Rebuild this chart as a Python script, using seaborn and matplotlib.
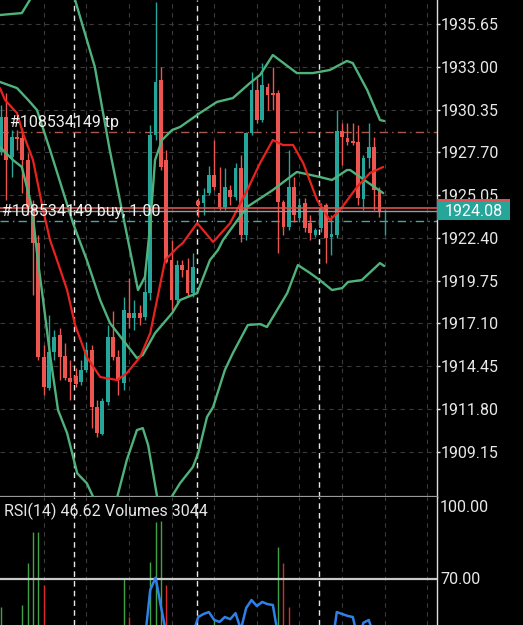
import numpy as np
import matplotlib
matplotlib.use("Agg")
import matplotlib.pyplot as plt
import seaborn as sns
from matplotlib.patches import Rectangle

# ---------------- data ----------------
opens = [1927.72, 1929.89, 1927.41, 1928.65, 1928.58, 1927.22, 1924.31, 1922.07, 1915.01, 1913.08,
         1915.32, 1916.37, 1915.07, 1913.70, 1913.83, 1913.46, 1914.20, 1915.44, 1911.91, 1910.23,
         1912.22, 1916.25, 1915.01, 1913.39, 1917.73, 1917.42, 1917.73, 1917.49, 1918.97, 1928.77,
         1932.18, 1927.22, 1921.02, 1918.54, 1920.71, 1920.40, 1918.97, 1924.68, 1924.55, 1925.17,
         1926.29, 1925.17, 1924.31, 1925.36, 1924.93, 1926.72, 1922.57, 1928.89, 1931.56, 1929.70,
         1931.75, 1931.37, 1931.37, 1924.62, 1923.07, 1925.55, 1923.62, 1924.55, 1923.31, 1922.57,
         1923.00, 1924.43, 1922.45, 1922.57, 1929.02, 1928.58, 1928.40, 1928.34, 1924.80, 1927.34,
         1928.03, 1925.36, 1924.00]
highs = [1930.63, 1931.37, 1929.08, 1929.08, 1929.20, 1927.65, 1924.74, 1922.57, 1915.75, 1917.61,
         1916.68, 1916.80, 1915.87, 1914.82, 1914.32, 1914.82, 1915.94, 1915.75, 1912.34, 1912.46,
         1916.99, 1917.86, 1915.44, 1918.73, 1919.90, 1918.54, 1918.23, 1920.52, 1929.39, 1937.02,
         1932.99, 1927.84, 1922.26, 1921.02, 1921.02, 1921.14, 1921.45, 1924.86, 1925.48, 1926.85,
         1928.46, 1926.79, 1926.72, 1925.67, 1927.03, 1927.53, 1928.96, 1932.68, 1932.30, 1933.23,
         1931.99, 1932.99, 1931.56, 1924.74, 1927.84, 1926.17, 1924.86, 1924.86, 1923.81, 1923.00,
         1924.55, 1924.55, 1923.81, 1930.32, 1929.51, 1929.51, 1929.51, 1929.39, 1927.53, 1929.51,
         1928.65, 1925.55, 1924.15]
lows = [1927.53, 1924.74, 1926.17, 1927.84, 1925.17, 1923.81, 1918.85, 1914.82, 1912.65, 1912.96,
        1914.82, 1913.58, 1913.58, 1912.34, 1913.15, 1913.27, 1914.08, 1910.60, 1910.05, 1910.17,
        1912.03, 1914.82, 1912.65, 1912.96, 1916.80, 1916.68, 1916.99, 1917.30, 1918.54, 1928.46,
        1926.60, 1920.83, 1917.92, 1918.35, 1919.97, 1918.73, 1918.73, 1923.69, 1923.81, 1925.05,
        1925.36, 1924.12, 1924.12, 1924.43, 1924.74, 1922.14, 1922.26, 1928.77, 1929.51, 1929.58,
        1930.32, 1930.32, 1921.45, 1922.57, 1922.88, 1923.38, 1923.38, 1922.76, 1922.26, 1922.45,
        1922.76, 1920.83, 1921.33, 1922.38, 1926.91, 1928.15, 1928.15, 1924.43, 1924.12, 1926.72,
        1924.12, 1923.69, 1922.57]
closes = [1929.89, 1927.22, 1928.65, 1928.52, 1927.22, 1924.31, 1922.07, 1915.01, 1913.15, 1915.32,
          1916.25, 1915.01, 1913.70, 1913.46, 1913.33, 1914.20, 1915.44, 1911.91, 1910.29, 1912.28,
          1916.25, 1915.01, 1913.58, 1917.92, 1917.42, 1917.73, 1917.42, 1919.04, 1928.77, 1932.06,
          1926.79, 1920.90, 1918.54, 1920.71, 1920.40, 1918.97, 1920.59, 1924.43, 1925.05, 1926.29,
          1925.55, 1924.31, 1925.55, 1924.93, 1926.72, 1922.57, 1928.89, 1931.56, 1929.70, 1931.87,
          1931.25, 1931.25, 1924.62, 1923.07, 1925.55, 1923.81, 1924.43, 1923.00, 1922.69, 1922.88,
          1924.24, 1922.38, 1922.63, 1929.02, 1928.65, 1928.34, 1928.27, 1924.86, 1927.34, 1928.03,
          1925.36, 1923.99, 1924.08]

# Bollinger bands and moving average (candle index, price)
ub_x = [-0.2, 3.9, 5.4, 9.0, 12.0, 13.9, 17.6, 20.4, 24.2, 25.7, 27.0, 27.95, 28.9, 30.2, 32.1,
        33.6, 37.3, 40.5, 43.5, 46.7, 48.6, 51.0, 55.5, 58.5, 61.7, 64.9, 66.0, 68.7, 71.1, 71.9]
ub_y = [1936.21, 1936.33, 1937.14, 1939.5, 1939.6, 1937.14, 1932.99, 1927.84, 1921.64, 1919.16,
        1919.97, 1923.07, 1927.22, 1928.46, 1929.08, 1929.27, 1930.13, 1930.82, 1931.06, 1931.99,
        1932.49, 1933.73, 1932.61, 1932.61, 1932.80, 1933.36, 1933.23, 1931.56, 1929.70, 1929.64]
mb_x = [-0.2, 3.0, 5.1, 6.75, 9.2, 13.5, 16.1, 18.6, 20.45, 25.5, 26.6, 28.9, 32.1, 33.6, 36.8,
        39.2, 40.7, 41.65, 46.15, 51.0, 55.5, 59.8, 62.1, 64.9, 65.5, 68.7, 71.7]
mb_y = [1932.06, 1931.68, 1930.94, 1930.32, 1927.84, 1923.31, 1921.02, 1918.54, 1917.11, 1914.94,
        1915.13, 1916.49, 1917.73, 1918.54, 1918.97, 1921.02, 1921.64, 1922.26, 1924.31, 1925.36,
        1926.48, 1926.17, 1925.98, 1926.60, 1926.60, 1925.86, 1925.17]
lb_x = [-0.2, 2.25, 3.9, 5.8, 6.9, 7.9, 9.2, 10.7, 12.4, 14.3, 16.1, 17.3, 19.5, 21.8, 23.6, 25.5,
        26.6, 27.6, 29.3, 31.0, 33.6, 36.0, 37.0, 38.65, 39.8, 42.0, 43.5, 46.3, 48.6, 49.9, 51.8,
        53.7, 55.7, 58.0, 59.8, 62.1, 64.0, 65.1, 67.7, 71.1, 71.9]
lb_y = [1928.03, 1927.22, 1926.79, 1924.31, 1921.02, 1918.54, 1915.13, 1911.72, 1910.29, 1907.80,
        1907.18, 1906.33, 1905.3, 1906.33, 1908.62, 1910.48, 1910.60, 1909.55, 1906.33, 1905.8,
        1907.19, 1908.19, 1909.05, 1911.29, 1911.91, 1914.20, 1915.25, 1916.99, 1917.05, 1916.87,
        1917.92, 1918.97, 1920.71, 1920.21, 1919.78, 1919.16, 1919.28, 1919.66, 1919.78, 1920.83,
        1920.65]
ma_x = [-0.2, 0.75, 3.0, 4.1, 6.0, 7.9, 9.2, 10.5, 12.4, 13.9, 16.1, 18.6, 21.8, 23.6, 26.1, 28.0,
        30.8, 33.2, 34.1, 36.8, 39.8, 43.0, 46.2, 48.6, 51.0, 52.9, 54.8, 56.7, 59.3, 61.7, 63.6,
        66.8, 69.2, 71.7]
ma_y = [1931.68, 1930.94, 1930.13, 1928.89, 1927.22, 1924.12, 1922.26, 1921.02, 1919.16, 1916.99,
        1915.01, 1913.77, 1913.58, 1914.01, 1915.01, 1916.49, 1921.02, 1921.83, 1922.07, 1923.31,
        1922.14, 1923.31, 1925.36, 1927.03, 1928.46, 1928.15, 1928.15, 1927.03, 1924.74, 1923.50,
        1924.12, 1925.55, 1926.41, 1926.79]

price_ticks = [1935.65, 1933.00, 1930.35, 1927.70, 1925.05, 1922.40, 1919.75, 1917.10, 1914.45,
               1911.80, 1909.15]
tp_level = 1928.96
ask_level = 1924.24
bid_level = 1924.08
buy_level = 1923.44
separators = [13.7, 36.7, 59.7]

rsi = [48, 44, 46, 45, 42, 36, 32, 24, 22, 28, 31, 29, 27, 26, 26, 28, 31, 25, 23, 30,
       40, 38, 35, 44, 44, 45, 45, 48, 66, 70.5, 60, 50, 46, 49, 48, 46, 50, 56.1, 57.2, 57.9,
       55.0, 54.3, 56.1, 55.3, 57.5, 51.5, 59.4, 62.3, 60.1, 61.6, 60.8, 60.5, 49, 46, 50, 47,
       49, 46, 44, 45, 48, 43, 44, 57.9, 57.2, 56.5, 56.1, 48, 54.0, 55.0, 49, 45.5, 46.62]
vol_idx = [0, 4, 5, 6, 7, 8, 23, 24, 28, 29, 30, 31, 40, 52, 53, 54]
vol_val = [4650, 4750, 6850, 8400, 8420, 5750, 6100, 4150, 6900, 8900, 8950, 5750, 4100, 7650, 6850, 4650]
vol_up = [True, True, True, True, True, False, True, False, True, True, True, False, True, True, False, False]

# ---------------- style ----------------
sns.set_theme(style="dark")
plt.rcParams['font.family'] = ['Roboto', 'DejaVu Sans']

BULL = '#26a69a'
BEAR = '#ec5550'
BB = '#4fb27c'
MA = '#e8221e'
GRID = '#3a3a3a'

W, H = 523, 625
fig = plt.figure(figsize=(W / 100, H / 100), dpi=100, facecolor='black')
split = 497
ax = fig.add_axes([0, 1 - split / H, 437 / W, split / H])
ax2 = fig.add_axes([0, 0, 437 / W, 1 - split / H])
axv = ax2.twinx()

xlim = (-0.19, 81.8)
for a in (ax, ax2, axv):
    a.set_facecolor('black')
    a.set_xlim(*xlim)
    a.grid(False)
    for s in a.spines.values():
        s.set_visible(False)
    a.set_xlabel('')
    a.set_ylabel('')

# vertical grid + separators
for a in (ax, axv):
    for k in range(8, 82, 8):
        a.axvline(k, color=GRID, lw=0.8, ls=(0, (4, 4)), zorder=0)
    for s in separators:
        a.axvline(s, color='#e6e6e6', lw=1.0, ls=(0, (4, 3)), zorder=0.5)

# horizontal grid
for t in price_ticks:
    ax.axhline(t, color=GRID, lw=0.8, ls=(0, (4, 4)), zorder=0)

# candles
idx = np.arange(len(opens))
o = np.array(opens); c = np.array(closes)
cols = [BULL if cc >= oo else BEAR for oo, cc in zip(opens, closes)]
ax.vlines(idx, lows, highs, colors=cols, lw=1.0, zorder=2)
bottoms = np.minimum(o, c)
heights = np.maximum(np.abs(c - o), 0.08)
ax.bar(idx, heights, bottom=bottoms, width=0.72, color=cols, linewidth=0, zorder=3)

# indicator lines
sns.lineplot(x=ub_x, y=ub_y, ax=ax, color=BB, lw=1.7, estimator=None, sort=False, legend=False, zorder=4)
sns.lineplot(x=mb_x, y=mb_y, ax=ax, color=BB, lw=1.7, estimator=None, sort=False, legend=False, zorder=4)
sns.lineplot(x=lb_x, y=lb_y, ax=ax, color=BB, lw=1.7, estimator=None, sort=False, legend=False, zorder=4)
sns.lineplot(x=ma_x, y=ma_y, ax=ax, color=MA, lw=1.6, estimator=None, sort=False, legend=False, zorder=5)

# trade / price lines
ax.axhline(tp_level, color='#a9584b', lw=1.0, ls=(0, (6, 3, 1, 3)), zorder=1)
ax.axhline(ask_level, color='#d9534f', lw=1.2, zorder=6)
ax.axhline(bid_level, color='#9a9a9a', lw=1.0, zorder=6)
ax.axhline(buy_level, color='#4fa39a', lw=1.0, ls=(0, (6, 3, 1, 3)), zorder=1)

ax.set_ylim(1906.33, 1937.14)
ax.yaxis.tick_right()
ax.set_yticks(price_ticks)
ax.set_yticklabels([f"{t:.2f}" for t in price_ticks])
ax.tick_params(axis='y', colors='#e8e8e8', labelsize=11.5, length=2, width=1, pad=1, right=True, left=False)
ax.tick_params(axis='x', bottom=False, labelbottom=False)
ax.spines['right'].set_visible(True)
ax.spines['right'].set_color('#dddddd')
ax.spines['right'].set_linewidth(1.0)
ax.spines['bottom'].set_visible(True)
ax.spines['bottom'].set_color('#9a9a9a')
ax.spines['bottom'].set_linewidth(1.6)

# ---------------- RSI / volumes panel ----------------
ax2.set_zorder(2)
ax2.patch.set_visible(False)
axv.set_zorder(1)
axv.patch.set_visible(True)
axv.patch.set_facecolor('black')

vcols = ['#3fa447' if u else '#e02a2a' for u in vol_up]
axv.vlines(vol_idx, 0, vol_val, colors=vcols, lw=1.0)
axv.set_ylim(3750, 10150)
axv.set_yticks([])
axv.tick_params(axis='both', which='both', length=0, labelright=False, labelbottom=False)

ax2.set_ylim(53.17, 100)
ax2.axhline(70, color='#c8c8c8', lw=1.6, zorder=3)
sns.lineplot(x=idx, y=rsi, ax=ax2, color='#2f80e8', lw=1.8, estimator=None, legend=False, zorder=4)
ax2.set_yticks([])
ax2.tick_params(axis='both', which='both', length=0, labelleft=False, labelbottom=False)
ax2.spines['right'].set_visible(True)
ax2.spines['right'].set_color('#dddddd')
ax2.spines['right'].set_linewidth(1.0)

# ---------------- texts ----------------
fs = 11.5
fig.text(10 / W, 1 - 123 / H, '#108534149 tp', color='#f0f0f0', fontsize=fs, va='center', ha='left')
fig.text(2 / W, 1 - 212 / H, '#108534149 buy, 1.00', color='#f0f0f0', fontsize=fs, va='center', ha='left', zorder=10)
fig.text(4 / W, 1 - 511 / H, 'RSI(14) 46.62 Volumes 3044', color='#e6e6e6', fontsize=fs, va='center', ha='left')
fig.text(440 / W, 1 - 507 / H, '100.00', color='#e8e8e8', fontsize=fs, va='center', ha='left')
fig.text(440 / W, 1 - 579 / H, '70.00', color='#e8e8e8', fontsize=fs, va='center', ha='left')

fig.patches.append(Rectangle((437 / W, 1 - 220 / H), 73 / W, 20 / H, transform=fig.transFigure,
                             facecolor=BULL, edgecolor='none', zorder=20))
fig.patches.append(Rectangle((437 / W, 1 - 202 / H), 73 / W, 3 / H, transform=fig.transFigure,
                             facecolor='#e05050', edgecolor='none', zorder=21))
fig.text(473.5 / W, 1 - 211 / H, '1924.08', color='white', fontsize=fs, va='center', ha='center', zorder=22)

fig.savefig('out.png', dpi=100, facecolor='black')
